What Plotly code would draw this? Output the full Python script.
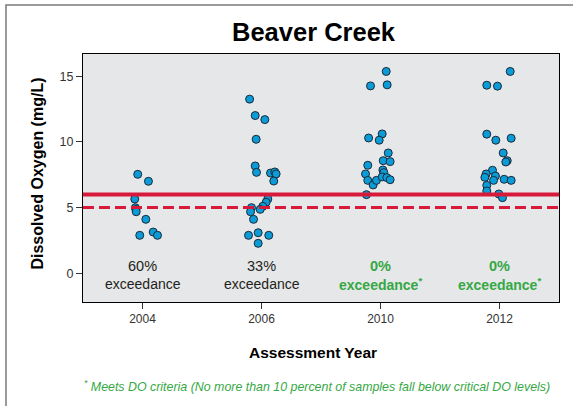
import plotly.graph_objects as go

# ---------------- data ----------------
years = ["2004", "2006", "2010", "2012"]

do_2004 = [7.53, 7.0, 5.65, 4.99, 4.85, 4.68, 4.1, 2.88, 3.13, 2.88]
jit_2004 = [-0.04, 0.05, -0.065, -0.06, -0.055, -0.053, 0.028, -0.023, 0.09, 0.126]

do_2006 = [13.26, 12.01, 11.7, 10.2, 8.17, 7.68, 7.63, 7.71, 7.56, 7.02, 5.65,
           5.4, 5.09, 4.86, 4.99, 4.68, 4.1, 2.88, 3.08, 2.88, 2.27]
jit_2006 = [-0.10, -0.053, 0.028, -0.045, -0.053, -0.042, 0.076, 0.112, 0.123,
            0.103, 0.053, 0.039, 0.011, -0.011, -0.084, -0.092, -0.067, -0.109,
            -0.028, 0.061, -0.028]

do_2010 = [15.37, 14.27, 14.35, 10.3, 10.61, 10.13, 9.16, 8.57, 8.5, 8.22, 7.56,
           7.07, 6.72, 7.07, 7.86, 7.66, 7.33, 7.28, 7.12, 5.98]
jit_2010 = [0.048, -0.084, 0.056, -0.1, 0.014, -0.011, 0.065, 0.023, 0.081, -0.107,
            -0.126, -0.107, -0.062, -0.034, 0.02, 0.028, 0.014, 0.053, 0.081, -0.118]

do_2012 = [15.37, 14.32, 14.25, 10.59, 10.13, 10.28, 9.16, 8.57, 8.47, 7.84, 7.56,
           7.4, 7.3, 7.07, 7.15, 7.07, 6.69, 6.26, 6.03, 5.75]
jit_2012 = [0.09, -0.107, -0.017, -0.107, -0.031, 0.098, 0.031, 0.065, 0.053, -0.059,
            -0.112, -0.034, -0.123, -0.05, 0.039, 0.098, -0.107, -0.107, -0.006, 0.025]

exceed_pct = ["60%", "33%", "0%", "0%"]
meets_criteria = [False, False, True, True]

criterion_do = 6.0   # solid red line
critical_do = 5.0    # dashed red line

y_ticks = [0, 5, 10, 15]

# ---------------- styling ----------------
FONT = "Liberation Sans, Arial, sans-serif"
GREEN = "#35a845"
RED = "#d7193a"
BLUE = "#0b9bd7"

groups = [do_2004, do_2006, do_2010, do_2012]
jits = [jit_2004, jit_2006, jit_2010, jit_2012]

xs, ys = [], []
for i, (vals, jj) in enumerate(zip(groups, jits)):
    xs += [i + j for j in jj]
    ys += vals

fig = go.Figure()
fig.add_trace(go.Scatter(
    x=xs, y=ys, mode="markers",
    marker=dict(size=8, color=BLUE, line=dict(color="#1b2a38", width=1)),
    showlegend=False, hoverinfo="y",
))

# threshold lines (drawn above points)
fig.add_shape(type="line", xref="paper", x0=0, x1=1, yref="y",
              y0=criterion_do, y1=criterion_do,
              line=dict(color=RED, width=4), layer="above")
fig.add_shape(type="line", xref="paper", x0=0, x1=1, yref="y",
              y0=critical_do, y1=critical_do,
              line=dict(color=RED, width=3, dash="11px,5px"), layer="above")

# outer frame
fig.add_shape(type="rect", xref="paper", yref="paper",
              x0=-0.1618, x1=1.1, y0=-0.5, y1=1.1976,
              line=dict(color="#7a7a7a", width=1.5), layer="below")

ann = []
for i, (pct, ok) in enumerate(zip(exceed_pct, meets_criteria)):
    col = GREEN if ok else "#231f20"
    lab2 = "exceedance<sup>*</sup>" if ok else "exceedance"
    if ok:
        pct = "<b>" + pct + "</b>"
        lab2 = "<b>" + lab2 + "</b>"
    ann.append(dict(x=i, y=0.53, xref="x", yref="y", text=pct, showarrow=False,
                    font=dict(family=FONT, size=14.5, color=col),
                    xanchor="center", yanchor="middle"))
    ann.append(dict(x=i, y=-0.84, xref="x", yref="y", text=lab2, showarrow=False,
                    font=dict(family=FONT, size=14, color=col),
                    xanchor="center", yanchor="middle"))

ann.append(dict(x=0.485, y=1.0887, xref="paper", yref="paper", text="<b>Beaver Creek</b>",
                showarrow=False, font=dict(family=FONT, size=25.5, color="black"),
                xanchor="center", yanchor="middle"))
ann.append(dict(x=-0.0945, y=0.518, xref="paper", yref="paper",
                text="<b>Dissolved Oxygen (mg/L)</b>", textangle=-90, showarrow=False,
                font=dict(family=FONT, size=16, color="black"),
                xanchor="center", yanchor="middle"))
ann.append(dict(x=0.483, y=-0.2056, xref="paper", yref="paper",
                text="<b>Assessment Year</b>", showarrow=False,
                font=dict(family=FONT, size=15.5, color="black"),
                xanchor="center", yanchor="middle"))
ann.append(dict(x=0.492, y=-0.3387, xref="paper", yref="paper",
                text="<i><sup>*</sup> Meets DO criteria (No more than 10 percent of samples fall below critical DO levels)</i>",
                showarrow=False, font=dict(family=FONT, size=12.4, color=GREEN),
                xanchor="center", yanchor="middle"))

fig.update_layout(
    width=573, height=406,
    margin=dict(l=83, r=14, t=54, b=104),
    paper_bgcolor="white", plot_bgcolor="#e6e7e8",
    showlegend=False, annotations=ann,
    xaxis=dict(range=[-0.5, 3.5], tickvals=list(range(len(years))), ticktext=years,
               showgrid=False, zeroline=False, ticks="outside", ticklen=6,
               tickcolor="#333", showline=True, mirror=True, linecolor="black",
               linewidth=1, tickfont=dict(family=FONT, size=12, color="#333")),
    yaxis=dict(range=[-2.2, 16.7], tickvals=y_ticks, showgrid=False, zeroline=False,
               ticks="outside", ticklen=6, tickcolor="#333", showline=True, mirror=True,
               linecolor="black", linewidth=1,
               tickfont=dict(family=FONT, size=12.5, color="#333")),
)

fig.write_html("out.html", config={"displayModeBar": False},
               post_script="document.body.style.margin='0';document.body.style.overflow='hidden';")
